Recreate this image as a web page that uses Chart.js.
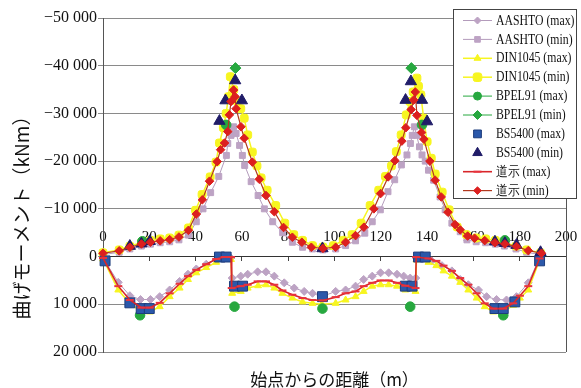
<!DOCTYPE html>
<html>
<head>
<meta charset="utf-8">
<script src="https://cdn.jsdelivr.net/npm/chart.js@4.4.1/dist/chart.umd.min.js"></script>
<style>
  html, body { margin: 0; padding: 0; background: #fff; }
  canvas { display: block; }
</style>
</head>
<body>
<canvas id="chart" width="581" height="388"></canvas>
<script>
// 軸の目盛りとラベル
const xTicks = [0, 20, 40, 60, 80, 100, 120, 140, 160, 180, 200];
const yTicks = [-50000, -40000, -30000, -20000, -10000, 0, 10000, 20000];
const xTitle = '始点からの距離（m）';
const yTitle = '曲げモーメント（kNm）';

// [距離 m, 曲げモーメント kNm]
const aashtoMax = [[0,300],[6.6,5400],[11.6,8200],[16.2,9000],[20.5,9000],[24.5,8400],[28.8,7000],[33.1,5200],[36.7,3700],[40.3,2600],[44.6,1600],[48.9,700],[52.5,400],[55.3,300],[55.8,4500],[59.5,4100],[62.5,3700],[66.8,3200],[70.4,3200],[74,4100],[78.3,5500],[82.6,6600],[86.9,7300],[90.5,7700],[94.5,8400],[100.5,7300],[104.8,7000],[109.1,6200],[112.6,4800],[116.3,4100],[119.9,3400],[123.4,3400],[127,3700],[129.9,4100],[132.7,4500],[135.1,4500],[135.4,300],[142,900],[146.4,1900],[150.7,3000],[154.3,4800],[157.8,5900],[162.2,7000],[165.7,8400],[170,9000],[174.3,9100],[178.6,8400],[183.7,5500],[188.6,300]];
const aashtoMin = [[0,-400],[7,-900],[11.6,-1600],[16.6,-2200],[20.5,-2600],[24.7,-2900],[28.8,-3100],[32.8,-3500],[36.9,-4500],[40.3,-7300],[43.2,-10000],[46.5,-13400],[50,-16800],[53.3,-21200],[53.9,-23700],[55.3,-25400],[56.4,-27200],[57.5,-25800],[59,-23300],[60.2,-21200],[61.2,-19100],[64,-15700],[67,-12800],[69.7,-10000],[73.3,-7300],[77.6,-5000],[81.8,-3000],[86.2,-1950],[90.5,-1600],[95,-1400],[100.5,-1600],[104.8,-2300],[109.1,-3300],[113.1,-4900],[116.3,-7300],[119.8,-9800],[123.1,-13600],[126,-16100],[128.9,-19200],[131.3,-21300],[132.8,-23700],[133.6,-25400],[134.5,-27200],[135.5,-25400],[136.7,-23000],[137.8,-21300],[139.2,-20000],[140.6,-18100],[142.8,-16000],[145.6,-12500],[147.8,-9800],[150.7,-7000],[154.3,-5200],[157.2,-3500],[161.2,-3100],[165.3,-2900],[169.5,-2600],[173.4,-2200],[178.4,-1600],[183,-900],[189,-400]];
const dinMax = [[0,500],[6.6,7000],[11.6,9800],[16.6,11600],[20.2,11600],[24.5,10500],[28.8,8400],[33.1,6600],[36.7,4800],[40.3,3400],[44.6,2300],[48.9,1200],[52.5,600],[55.3,600],[55.8,7700],[59.5,7300],[62.5,6600],[67,6100],[70.4,5900],[74,6600],[77.5,7700],[81.8,8700],[86.2,9500],[90.5,9800],[94.5,10000],[100.5,9800],[104.8,9100],[109.1,8400],[112.6,7300],[116.3,6200],[119.9,5900],[123.4,5900],[127,6200],[130.6,7000],[135,7300],[135.4,700],[140.6,1200],[144,1900],[147.1,3000],[150.7,4100],[154.3,5400],[157.8,7000],[161.4,8700],[164.9,10500],[168.6,11600],[172.9,11600],[177.2,10200],[180.1,8700],[183.7,7000],[188.6,700]];
const dinMin = [[0,-800],[7,-1400],[11.6,-2200],[16.6,-2900],[20.5,-3400],[24.7,-3700],[28.8,-3900],[32.8,-4500],[36.9,-6000],[40,-9700],[42.8,-13000],[46.3,-16700],[48.8,-19800],[50.3,-23800],[52,-27000],[53.2,-30000],[54.2,-33500],[55,-37700],[56.5,-35000],[58,-32500],[59.5,-31000],[61,-29000],[62.5,-25500],[64.5,-21900],[66.5,-19000],[68.3,-16500],[70.9,-13900],[74.6,-10700],[78.5,-7000],[82.4,-4600],[86.2,-3400],[90.5,-2300],[95,-2000],[99.5,-2300],[103.8,-3400],[107.6,-4600],[111.5,-7000],[115.4,-10700],[119.1,-13900],[122,-16800],[124.6,-19000],[126.7,-22000],[128.8,-25500],[131,-29700],[132.5,-32500],[134,-34500],[135.6,-37400],[136.3,-35700],[137.3,-33900],[138.5,-29000],[140,-24100],[141.8,-20600],[143.5,-17300],[146.5,-13500],[149.5,-9800],[153,-6200],[157,-4600],[161.2,-3900],[165.3,-3700],[169.5,-3400],[173.4,-2900],[178.4,-2200],[183,-1400],[189,-800]];
const bpelMax = [[16,12300],[56.8,10500],[94.8,10900],[132.7,10500],[172.9,12300],[17,-3200],[53.2,-27600],[137.8,-27600],[173.6,-3400]];
const bpelMin = [[57.2,-39500],[133.2,-39500]];
const bsMax = [[0.9,900],[11.6,9700],[16.5,10900],[20,10900],[50.3,100],[53.2,100],[56.8,6200],[60.3,6200],[94.8,8400],[130.6,6200],[133.5,6200],[136.3,100],[139.2,100],[169.3,10900],[172.9,10900],[177.9,9500],[188.6,900]];
const bsMin = [[11.6,-2200],[16.6,-2700],[20.2,-3200],[50.3,-28400],[52.9,-32700],[57.1,-36900],[60,-32700],[94.8,-1700],[130.7,-32800],[133,-36700],[137.8,-32800],[140,-28300],[169.3,-3100],[173.6,-2800],[178.6,-2400],[189,-900]];
const doshiMax = [[0,300],[6.6,6200],[11.6,9100],[16.6,10700],[20.2,10700],[24.5,9700],[28.8,7700],[33.1,5700],[36.7,4100],[40.3,2800],[44.6,1600],[48.9,500],[52.5,100],[55.3,100],[55.6,6600],[59.5,6200],[62.5,5900],[66.8,5200],[70.4,5200],[74,5900],[77.5,7100],[81.8,8000],[86.2,8700],[90.5,9100],[95,9200],[100.5,8500],[104.8,7700],[109.1,7300],[112.6,6200],[116.3,5500],[119.9,5000],[123.4,5000],[127,5500],[130.6,6100],[135,6600],[135.3,100],[140.6,400],[144,900],[147.1,1900],[150.7,3000],[154.3,4500],[157.8,5900],[161.4,7700],[164.9,9800],[168.6,10900],[172.9,10900],[177.2,9800],[180.1,8200],[183.7,6200],[188.6,400]];
const doshiMin = [[0,-700],[7,-1200],[11.6,-1950],[16.6,-2640],[20.5,-3000],[24.7,-3300],[28.8,-3550],[32.8,-4100],[36.9,-5500],[40.3,-8900],[42.9,-11900],[46,-15800],[49.3,-19900],[50.8,-22400],[52.5,-23800],[53.9,-26200],[54.6,-29700],[55.3,-32500],[56.4,-34900],[57.1,-33500],[57.5,-31000],[59.6,-27200],[61,-24800],[64.5,-19800],[67.5,-16200],[70.4,-12800],[74,-9400],[78,-6100],[81.8,-4050],[85.9,-3000],[90,-1950],[95,-1700],[100.5,-1950],[104.8,-3000],[109.1,-4400],[112.7,-6150],[117,-10000],[119.9,-13200],[123.2,-16700],[126.1,-20100],[129.1,-24200],[130.8,-27000],[133.1,-30800],[134.2,-32800],[134.9,-34500],[135.6,-29600],[137.6,-26000],[138.6,-24600],[141.2,-20000],[143.5,-16000],[146.1,-12500],[149,-9300],[152.1,-6700],[154.3,-5600],[157.5,-4300],[160.5,-3850],[164.9,-3350],[169.3,-2900],[173.6,-2650],[178.6,-2100],[183.7,-1250],[189.4,-700]];

const pts = arr => arr.map(([x, y]) => ({ x, y }));

function fmt(v) {
  if (v === 0) return '0';
  const s = String(Math.abs(v)).replace(/\B(?=(\d{3})+(?!\d))/g, ' ');
  return (v < 0 ? '\u2212' : '') + s;
}

// 凡例（枠付き、線とマーカー）
const boxLegend = {
  id: 'boxLegend',
  afterDraw(chart) {
    const ctx = chart.ctx;
    const bx = 453.5, by = 9.5, bw = 123, bh = 189;
    ctx.save();
    ctx.fillStyle = '#fff';
    ctx.fillRect(bx, by, bw, bh);
    ctx.strokeStyle = '#444';
    ctx.lineWidth = 1;
    ctx.strokeRect(bx, by, bw, bh);
    chart.data.datasets.forEach((ds, i) => {
      const y = 20.5 + i * 18.9;
      if (ds.legendLine !== false) {
        ctx.strokeStyle = ds.borderColor;
        ctx.lineWidth = Math.max(1, ds.borderWidth);
        ctx.beginPath();
        ctx.moveTo(463, y);
        ctx.lineTo(492, y);
        ctx.stroke();
      }
      ctx.fillStyle = ds.pointBackgroundColor;
      ctx.strokeStyle = ds.pointBorderColor;
      ctx.lineWidth = ds.pointBorderWidth;
      Chart.helpers.drawPoint(ctx, {
        pointStyle: ds.pointStyle, radius: ds.legendRadius, rotation: 0,
        borderWidth: ds.pointBorderWidth
      }, 477.5, y);
      ctx.fillStyle = '#111';
      ctx.font = '14px "Liberation Serif"';
      ctx.textBaseline = 'middle';
      ctx.textAlign = 'left';
      ctx.save();
      ctx.translate(496, y + 0.5);
      ctx.scale(0.84, 1);
      ctx.fillText(ds.label, 0, 0);
      ctx.restore();
    });
    // 縦軸タイトル
    ctx.fillStyle = '#111';
    ctx.font = '19px "Noto Sans CJK JP"';
    ctx.textAlign = 'center';
    ctx.textBaseline = 'middle';
    ctx.translate(22, 213);
    ctx.rotate(-Math.PI / 2);
    ctx.fillText(yTitle, 0, 0);
    ctx.restore();
  },
  beforeDatasetsDraw(chart) {
    const { ctx, chartArea: a } = chart;
    ctx.save();
    ctx.strokeStyle = '#555';
    ctx.lineWidth = 1;
    ctx.beginPath();
    ctx.moveTo(Math.round(a.right) + 0.5, a.top);
    ctx.lineTo(Math.round(a.right) + 0.5, a.bottom);
    ctx.stroke();
    ctx.restore();
  }
};

function series(label, data, o) {
  return Object.assign({
    label, data: pts(data), showLine: true, borderWidth: 1,
    pointBorderWidth: 1, clip: false
  }, o);
}

const purple = '#bda3c4', yellow = '#f7f520', green = '#27a83f', red = '#d8262a';

new Chart(document.getElementById('chart'), {
  type: 'scatter',
  data: {
    datasets: [
      series('AASHTO (max)', aashtoMax, { borderColor: '#b39bbb', pointStyle: 'rectRot', pointRadius: 4, legendRadius: 3.5,
        pointBackgroundColor: purple, pointBorderColor: purple, order: 8 }),
      series('AASHTO (min)', aashtoMin, { borderColor: '#b39bbb', pointStyle: 'rect', pointRadius: 4.2, legendRadius: 4,
        pointBackgroundColor: purple, pointBorderColor: purple, order: 8 }),
      series('DIN1045 (max)', dinMax, { borderColor: yellow, borderWidth: 1.5, pointStyle: 'triangle', pointRadius: 4, legendRadius: 4,
        pointBackgroundColor: yellow, pointBorderColor: yellow, order: 6 }),
      series('DIN1045 (min)', dinMin, { borderColor: yellow, borderWidth: 1.5, pointStyle: 'rectRounded', pointRadius: 4.6, legendRadius: 5,
        pointBackgroundColor: yellow, pointBorderColor: yellow, order: 6 }),
      series('BPEL91 (max)', bpelMax, { showLine: false, borderColor: green, pointStyle: 'circle', pointRadius: 4.8, legendRadius: 4,
        pointBackgroundColor: green, pointBorderColor: green, order: 5 }),
      series('BPEL91 (min)', bpelMin, { showLine: false, borderColor: green, pointStyle: 'rectRot', pointRadius: 5.5, legendRadius: 4.5,
        pointBackgroundColor: green, pointBorderColor: green, order: 2 }),
      series('BS5400 (max)', bsMax, { showLine: false, legendLine: false, borderColor: '#2856a8', pointStyle: 'rect', pointRadius: 7, legendRadius: 5.5,
        pointBackgroundColor: '#2b58aa', pointBorderColor: '#1d3c7c', order: 4 }),
      series('BS5400 (min)', bsMin, { showLine: false, legendLine: false, borderColor: '#201c68', pointStyle: 'triangle', pointRadius: 6.5, legendRadius: 5.5,
        pointBackgroundColor: '#201c68', pointBorderColor: '#201c68', order: 3 }),
      series('道示 (max)', doshiMax, { borderColor: red, borderWidth: 1.6, pointStyle: 'line', pointRadius: 4, legendRadius: 4,
        pointBackgroundColor: red, pointBorderColor: '#e8323c', pointBorderWidth: 2, order: 0 }),
      series('道示 (min)', doshiMin, { borderColor: '#b2381e', borderWidth: 1.2, pointStyle: 'rectRot', pointRadius: 4.3, legendRadius: 3.8,
        pointBackgroundColor: '#dc1f1f', pointBorderColor: '#dc1f1f', order: 1 })
    ]
  },
  options: {
    responsive: false,
    animation: false,
    layout: { padding: { left: 0, right: 15, top: 18, bottom: 0 } },
    plugins: {
      legend: { display: false },
      tooltip: { enabled: false },
      title: {
        display: true, position: 'bottom', fullSize: false, text: xTitle, color: '#111',
        font: { family: 'Noto Sans CJK JP', size: 17, weight: 'normal', lineHeight: 1 },
        padding: { top: 19, bottom: 0 }
      }
    },
    scales: {
      x: {
        type: 'linear', min: 0, max: 200, position: { y: 0 },
        afterBuildTicks: s => { s.ticks = xTicks.map(value => ({ value })); },
        grid: { drawOnChartArea: false, drawTicks: true, tickLength: 4, color: '#444' },
        border: { display: true, color: '#333', width: 1 },
        ticks: { padding: -33, color: '#111', maxRotation: 0, autoSkip: false,
          font: { family: 'Liberation Serif', size: 15 } }
      },
      y: {
        type: 'linear', min: -50000, max: 20000, reverse: true,
        afterBuildTicks: s => { s.ticks = yTicks.map(value => ({ value })); },
        afterFit: s => { s.width = 103; },
        grid: { color: '#8a8a8a', tickLength: 5 },
        border: { color: '#555' },
        ticks: { padding: 1, color: '#111', callback: fmt,
          font: { family: 'Liberation Serif', size: 16 } }
      }
    }
  },
  plugins: [boxLegend]
});
</script>
</body>
</html>
